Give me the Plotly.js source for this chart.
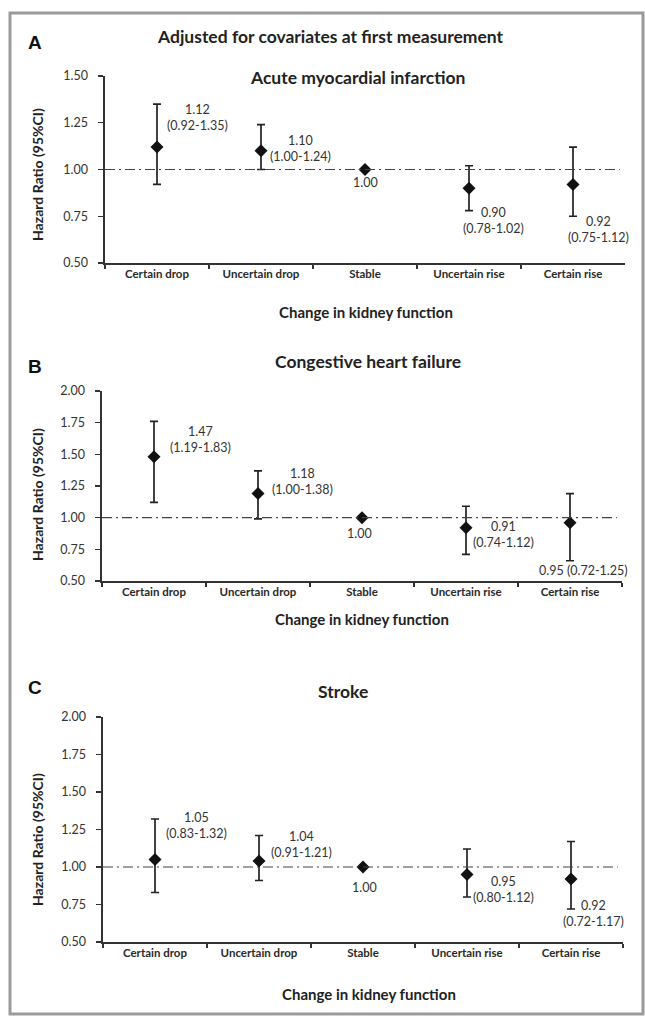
<!DOCTYPE html>
<html>
<head>
<meta charset="utf-8">
<script src="https://cdn.plot.ly/plotly-3.0.1.min.js"></script>
<style>html,body{margin:0;padding:0;background:#fff;}#chart{width:645px;height:1017px;}</style>
</head>
<body>
<div id="chart"></div>
<script>
// ---------- DATA ----------
const categories = ['Certain drop', 'Uncertain drop', 'Stable', 'Uncertain rise', 'Certain rise'];

// Panel A: Acute myocardial infarction
const amiHR    = [1.12, 1.10, 1.00, 0.90, 0.92];
const amiLower = [0.92, 1.00, 1.00, 0.78, 0.75];
const amiUpper = [1.35, 1.24, 1.00, 1.02, 1.12];
const amiLabels = ['1.12<br>(0.92-1.35)', '1.10<br>(1.00-1.24)', '1.00', '0.90<br>(0.78-1.02)', '0.92<br>(0.75-1.12)'];

// Panel B: Congestive heart failure (as drawn)
const chfHR    = [1.48, 1.19, 1.00, 0.92, 0.96];
const chfLower = [1.12, 0.99, 1.00, 0.71, 0.66];
const chfUpper = [1.76, 1.37, 1.00, 1.09, 1.19];
const chfLabels = ['1.47<br>(1.19-1.83)', '1.18<br>(1.00-1.38)', '1.00', '0.91<br>(0.74-1.12)', '0.95 (0.72-1.25)'];

// Panel C: Stroke
const strHR    = [1.05, 1.04, 1.00, 0.95, 0.92];
const strLower = [0.83, 0.91, 1.00, 0.80, 0.72];
const strUpper = [1.32, 1.21, 1.00, 1.12, 1.17];
const strLabels = ['1.05<br>(0.83-1.32)', '1.04<br>(0.91-1.21)', '1.00', '0.95<br>(0.80-1.12)', '0.92<br>(0.72-1.17)'];

const yTicksA = [0.50, 0.75, 1.00, 1.25, 1.50];
const yTicksBC = [0.50, 0.75, 1.00, 1.25, 1.50, 1.75, 2.00];
const refValue = 1.00;

// ---------- STYLE / LAYOUT ----------
const W = 645, H = 1017;
const px = v => v / W;
const py = v => 1 - v / H;
const FONT = 'Lato, "Open Sans", sans-serif';
const TXT = '#333';

// label offsets (px, screen coords: +dy = down) relative to each point
const offA = [[40, -30], [39, -2], [0, 13], [24, 32], [25, 45]];
const offB = [[46, -17], [44, -12], [-3, 16], [37, 7], [13, 48]];
const offC = [[41, -34], [42, -17], [1, 20], [36, 15], [22, 34]];

const panels = [
  {hr: amiHR, lo: amiLower, up: amiUpper, labels: amiLabels, off: offA,
   xd: [105, 625], yd: [76, 263], range: [0.5, 1.5], ticks: yTicksA,
   title: 'Acute myocardial infarction', titlePos: [357, 78], letter: 'A', letterPos: [35, 42],
   xtitlePos: [366, 312], ytitlePos: [38, 175]},
  {hr: chfHR, lo: chfLower, up: chfUpper, labels: chfLabels, off: offB,
   xd: [102, 622], yd: [391, 581], range: [0.5, 2.0], ticks: yTicksBC,
   title: 'Congestive heart failure', titlePos: [368, 361], letter: 'B', letterPos: [35, 367],
   xtitlePos: [362, 619], ytitlePos: [37, 495]},
  {hr: strHR, lo: strLower, up: strUpper, labels: strLabels, off: offC,
   xd: [103, 623], yd: [717, 942], range: [0.5, 2.0], ticks: yTicksBC,
   title: 'Stroke', titlePos: [343, 691], letter: 'C', letterPos: [35, 687],
   xtitlePos: [369, 994], ytitlePos: [37, 840]}
];

const data = [];
const layout = {
  width: W, height: H,
  margin: {l: 0, r: 0, t: 0, b: 0},
  paper_bgcolor: '#fff', plot_bgcolor: '#fff',
  showlegend: false,
  font: {family: FONT, color: TXT},
  annotations: [], shapes: []
};

// outer frame
layout.shapes.push({type: 'rect', xref: 'paper', yref: 'paper',
  x0: px(10), x1: px(643), y0: py(13), y1: py(1014),
  line: {color: '#9a9a9a', width: 3}, fillcolor: 'rgba(0,0,0,0)'});

// main title
layout.annotations.push({xref: 'paper', yref: 'paper', x: px(330), y: py(36),
  text: 'Adjusted for covariates at first measurement', showarrow: false,
  xanchor: 'center', yanchor: 'middle',
  font: {family: FONT, size: 17.5, color: '#222', weight: 'bold'}});

panels.forEach((p, i) => {
  const n = i === 0 ? '' : String(i + 1);
  const xa = 'xaxis' + n, ya = 'yaxis' + n;
  const xr = 'x' + n, yr = 'y' + n;
  data.push({
    type: 'scatter', mode: 'markers', x: categories, y: p.hr,
    xaxis: xr, yaxis: yr,
    marker: {symbol: 'diamond', size: 10, color: '#111'},
    error_y: {type: 'data', symmetric: false,
      array: p.up.map((u, k) => u - p.hr[k]),
      arrayminus: p.lo.map((l, k) => p.hr[k] - l),
      color: '#222', thickness: 1.7, width: 4},
    hoverinfo: 'skip'
  });
  layout[xa] = {
    domain: [px(p.xd[0]), px(p.xd[1])], anchor: yr,
    type: 'category', categoryorder: 'array', categoryarray: categories,
    range: [-0.5, 4.5], tickson: 'boundaries', ticks: 'outside', ticklen: 4,
    tickcolor: '#333', tickwidth: 1.3,
    showline: true, linecolor: '#333', linewidth: 1.6,
    showgrid: false, zeroline: false, fixedrange: true,
    tickfont: {family: FONT, size: 11.5, color: '#2a2a2a', weight: 'bold'}
  };
  layout[ya] = {
    domain: [py(p.yd[1]), py(p.yd[0])], anchor: xr,
    range: p.range, tickmode: 'array', tickvals: p.ticks,
    ticktext: p.ticks.map(t => t.toFixed(2)),
    ticks: 'outside', ticklen: 5, tickcolor: '#333', tickwidth: 1.3,
    ticklabelstandoff: 8,
    showline: true, linecolor: '#333', linewidth: 1.6,
    showgrid: false, zeroline: false, fixedrange: true,
    tickfont: {family: FONT, size: 12.5, color: TXT}
  };
  // reference line
  layout.shapes.push({type: 'line', xref: xr, yref: yr,
    x0: -0.5, x1: 4.45, y0: refValue, y1: refValue,
    line: {color: '#444', width: 1.2, dash: '10px,4px,2px,4px'}});
  // value labels
  p.labels.forEach((t, k) => {
    layout.annotations.push({xref: xr, yref: yr, x: categories[k], y: p.hr[k],
      text: t, showarrow: false, xanchor: 'center', yanchor: 'middle',
      xshift: p.off[k][0], yshift: -p.off[k][1], align: 'center',
      font: {family: FONT, size: 12.5, color: TXT}});
  });
  // panel title
  layout.annotations.push({xref: 'paper', yref: 'paper', x: px(p.titlePos[0]), y: py(p.titlePos[1]),
    text: p.title, showarrow: false, xanchor: 'center', yanchor: 'middle',
    font: {family: FONT, size: 17.5, color: '#222', weight: 'bold'}});
  // panel letter
  layout.annotations.push({xref: 'paper', yref: 'paper', x: px(p.letterPos[0]), y: py(p.letterPos[1]),
    text: p.letter, showarrow: false, xanchor: 'center', yanchor: 'middle',
    font: {family: '"Liberation Sans", Arial, sans-serif', size: 19, color: '#111', weight: 'bold'}});
  // x axis title
  layout.annotations.push({xref: 'paper', yref: 'paper', x: px(p.xtitlePos[0]), y: py(p.xtitlePos[1]),
    text: 'Change in kidney function', showarrow: false, xanchor: 'center', yanchor: 'middle',
    font: {family: FONT, size: 15, color: '#222', weight: 'bold'}});
  // y axis title
  layout.annotations.push({xref: 'paper', yref: 'paper', x: px(p.ytitlePos[0]), y: py(p.ytitlePos[1]),
    text: 'Hazard Ratio (95%CI)', showarrow: false, textangle: -90,
    xanchor: 'center', yanchor: 'middle',
    font: {family: FONT, size: 14, color: '#222', weight: 'bold'}});
});

Plotly.newPlot('chart', data, layout, {displayModeBar: false, staticPlot: true});
</script>
</body>
</html>
